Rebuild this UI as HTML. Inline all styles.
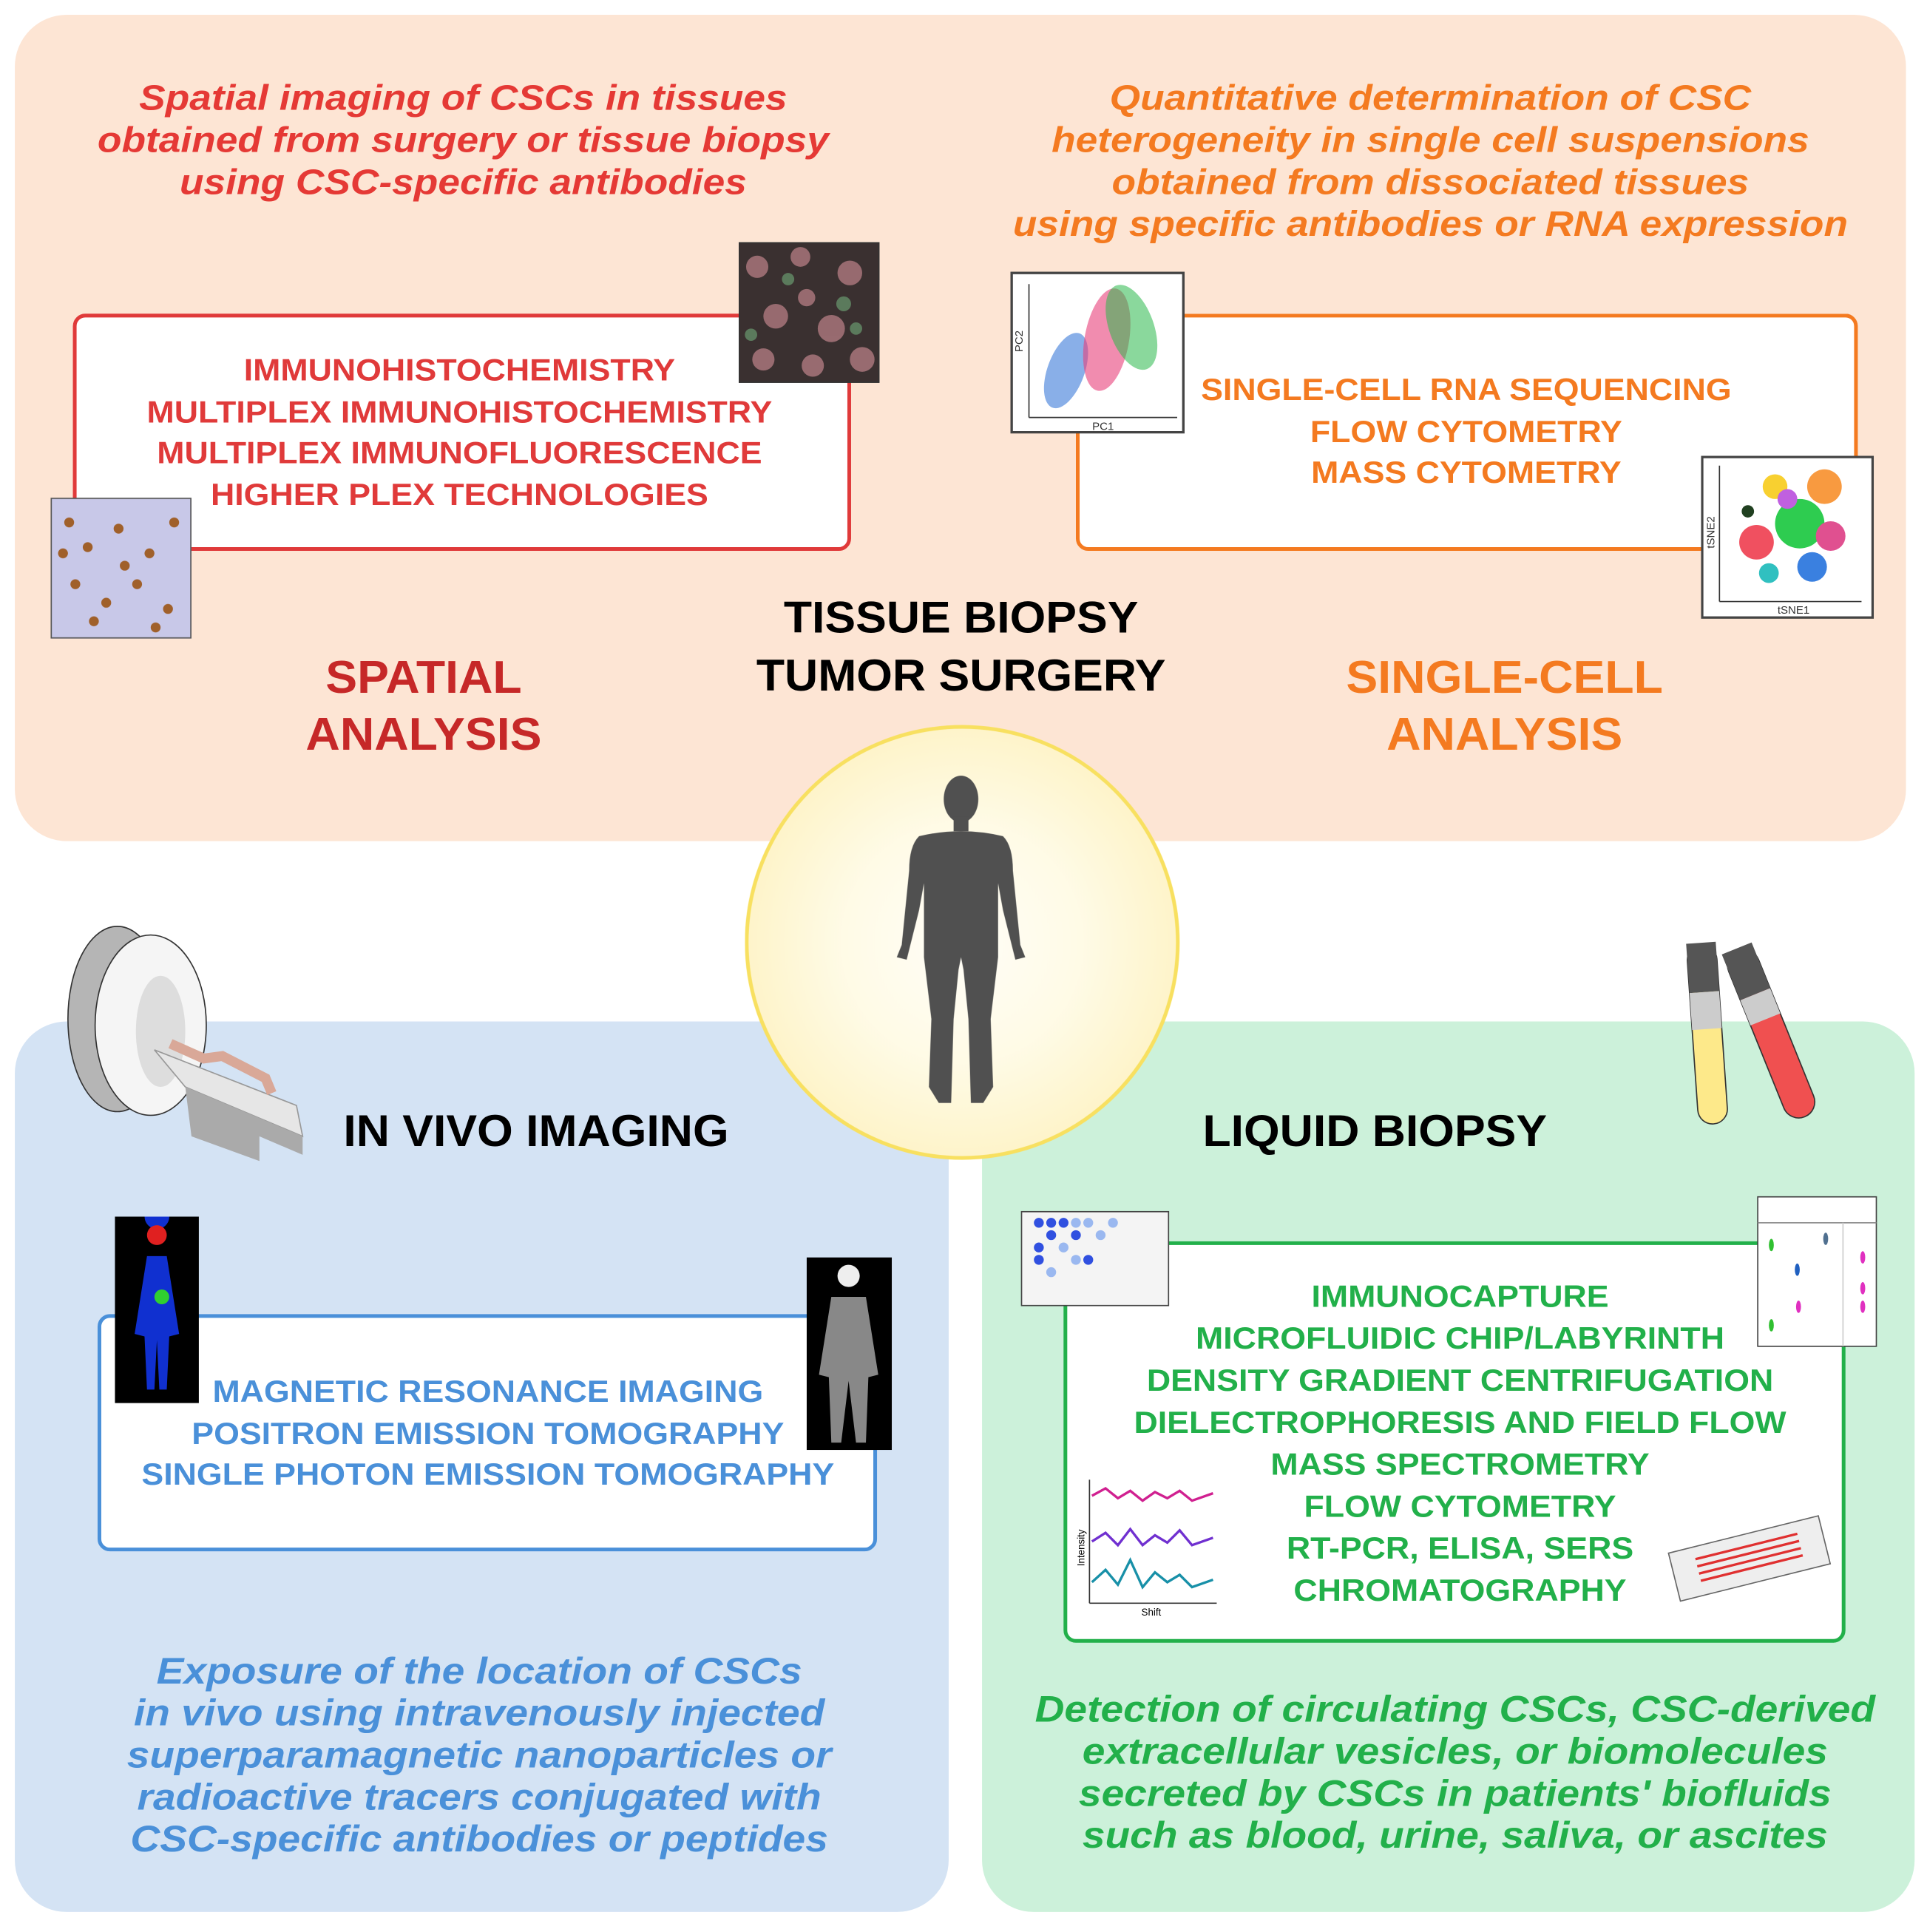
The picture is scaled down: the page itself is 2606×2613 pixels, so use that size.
<!DOCTYPE html>
<html><head><meta charset="utf-8">
<style>
html,body{margin:0;padding:0;background:#fff;width:2606px;height:2612px;overflow:hidden}
#s{position:absolute;left:0;top:0;width:1560px;height:1564px;transform:scale(1.6705);transform-origin:0 0;font-family:"Liberation Sans",Arial,sans-serif;font-weight:bold}
.p{position:absolute}
.t{position:absolute;width:1000px;text-align:center;white-space:nowrap;transform-origin:50% 0}
.i{transform:scaleX(1.1)}
.b{transform:scaleX(1.07)}
.h{transform:scaleX(1.04)}
.box{position:absolute;background:#fff;border-radius:10px;border:3px solid}
</style></head><body><div id="s">
<div class="p" style="left:12px;top:12px;width:1531px;height:669px;background:#fde5d4;border-radius:42px"></div>
<div class="p" style="left:12px;top:827px;width:756px;height:721px;background:#d4e3f4;border-radius:42px"></div>
<div class="p" style="left:795px;top:827px;width:755px;height:721px;background:#ccf1da;border-radius:42px"></div>

<div class="t i" style="left:-125px;top:63px;font-size:29px;line-height:34px;font-style:italic;color:#e53935">Spatial imaging of CSCs in tissues<br>obtained from surgery or tissue biopsy<br>using CSC-specific antibodies</div>
<div class="t i" style="left:658px;top:63px;font-size:29px;line-height:34px;font-style:italic;color:#f47a20">Quantitative determination of CSC<br>heterogeneity in single cell suspensions<br>obtained from dissociated tissues<br>using specific antibodies or RNA expression</div>

<div class="box" style="left:59px;top:254px;width:624px;height:186px;border-color:#e03a3a"></div>
<div class="t b" style="left:-128px;top:284px;font-size:25px;line-height:33.5px;color:#e03a3a">IMMUNOHISTOCHEMISTRY<br>MULTIPLEX IMMUNOHISTOCHEMISTRY<br>MULTIPLEX IMMUNOFLUORESCENCE<br>HIGHER PLEX TECHNOLOGIES</div>
<div class="box" style="left:871px;top:254px;width:627px;height:186px;border-color:#f47a20"></div>
<div class="t b" style="left:687px;top:300px;font-size:25px;line-height:33.5px;color:#f47a20">SINGLE-CELL RNA SEQUENCING<br>FLOW CYTOMETRY<br>MASS CYTOMETRY</div>

<svg class="p" style="left:598px;top:196px" width="114" height="114"><rect width="114" height="114" fill="#3a3030"/>
<g fill="#b07a80" opacity=".8"><circle cx="15" cy="20" r="9"/><circle cx="50" cy="12" r="8"/><circle cx="90" cy="25" r="10"/><circle cx="30" cy="60" r="10"/><circle cx="75" cy="70" r="11"/><circle cx="20" cy="95" r="9"/><circle cx="60" cy="100" r="9"/><circle cx="100" cy="95" r="10"/><circle cx="55" cy="45" r="7"/></g>
<g fill="#6a9a70" opacity=".7"><circle cx="40" cy="30" r="5"/><circle cx="85" cy="50" r="6"/><circle cx="10" cy="75" r="5"/><circle cx="95" cy="70" r="5"/></g><rect width="114" height="114" fill="none" stroke="#333" stroke-width="2"/></svg>
<svg class="p" style="left:41px;top:403px" width="114" height="114"><rect width="114" height="114" fill="#c8c8e8"/>
<g fill="#a0602a"><circle cx="15" cy="20" r="4"/><circle cx="30" cy="40" r="4"/><circle cx="55" cy="25" r="4"/><circle cx="80" cy="45" r="4"/><circle cx="20" cy="70" r="4"/><circle cx="45" cy="85" r="4"/><circle cx="70" cy="70" r="4"/><circle cx="95" cy="90" r="4"/><circle cx="100" cy="20" r="4"/><circle cx="60" cy="55" r="4"/><circle cx="35" cy="100" r="4"/><circle cx="85" cy="105" r="4"/><circle cx="10" cy="45" r="4"/></g><rect width="114" height="114" fill="none" stroke="#555" stroke-width="2"/></svg>
<svg class="p" style="left:818px;top:220px" width="141" height="131"><rect x="1" y="1" width="139" height="129" fill="#fff" stroke="#444" stroke-width="2"/>
<line x1="15" y1="10" x2="15" y2="118" stroke="#333"/><line x1="15" y1="118" x2="135" y2="118" stroke="#333"/>
<ellipse cx="45" cy="80" rx="15" ry="32" fill="#3a7ad8" opacity=".6" transform="rotate(20 45 80)"/>
<ellipse cx="78" cy="55" rx="18" ry="42" fill="#e8407a" opacity=".6" transform="rotate(10 78 55)"/>
<ellipse cx="98" cy="45" rx="18" ry="36" fill="#2ab84a" opacity=".55" transform="rotate(-20 98 45)"/>
<text x="75" y="128" font-size="9" font-weight="normal" fill="#333" text-anchor="middle">PC1</text><text x="10" y="65" font-size="9" font-weight="normal" fill="#333" transform="rotate(-90 10 65)">PC2</text></svg>
<svg class="p" style="left:1377px;top:369px" width="140" height="132"><rect x="1" y="1" width="138" height="130" fill="#fff" stroke="#444" stroke-width="2"/>
<line x1="15" y1="8" x2="15" y2="118" stroke="#333"/><line x1="15" y1="118" x2="130" y2="118" stroke="#333"/>
<circle cx="100" cy="25" r="14" fill="#f89a40"/><circle cx="80" cy="55" r="20" fill="#2ecc50"/><circle cx="45" cy="70" r="14" fill="#f05060"/><circle cx="60" cy="25" r="10" fill="#f8d030"/><circle cx="105" cy="65" r="12" fill="#e05090"/><circle cx="90" cy="90" r="12" fill="#3a80e0"/><circle cx="55" cy="95" r="8" fill="#30c0c0"/><circle cx="38" cy="45" r="5" fill="#204020"/><circle cx="70" cy="35" r="8" fill="#c060e0"/>
<text x="75" y="128" font-size="9" font-weight="normal" fill="#333" text-anchor="middle">tSNE1</text><text x="11" y="75" font-size="9" font-weight="normal" fill="#333" transform="rotate(-90 11 75)">tSNE2</text></svg>

<div class="t h" style="left:278px;top:476px;font-size:36px;line-height:47px;color:#000">TISSUE BIOPSY<br>TUMOR SURGERY</div>
<div class="t h" style="left:-157px;top:526px;font-size:37px;line-height:46px;color:#c62828">SPATIAL<br>ANALYSIS</div>
<div class="t h" style="left:718px;top:526px;font-size:37px;line-height:46px;color:#f47a20">SINGLE-CELL<br>ANALYSIS</div>

<div class="p" style="left:603px;top:587px;width:346px;height:346px;border-radius:50%;border:3px solid #f8e060;background:radial-gradient(circle,#fffef8 0%,#fffbe6 40%,#fdeeb0 100%)"></div>
<svg class="p" style="left:720px;top:625px" width="116" height="275"><g fill="#505050">
<ellipse cx="58" cy="22" rx="14" ry="19"/><rect x="52" y="36" width="12" height="12"/>
<path d="M24 52 Q58 44 92 52 Q100 60 100 80 L106 140 L110 150 L102 152 L92 112 L88 90 L88 150 L82 200 L84 255 L76 268 L66 268 L64 200 L60 160 L58 150 L56 160 L52 200 L50 268 L40 268 L32 255 L34 200 L28 150 L28 90 L24 112 L14 152 L6 150 L10 140 L16 80 Q16 60 24 52 Z"/></g></svg>

<svg class="p" style="left:30px;top:745px" width="220" height="200">
<ellipse cx="65" cy="80" rx="40" ry="75" fill="#b5b5b5" stroke="#333"/>
<ellipse cx="92" cy="85" rx="45" ry="73" fill="#f5f5f5" stroke="#333"/>
<ellipse cx="100" cy="90" rx="20" ry="45" fill="#ddd"/>
<path d="M95 105 L210 150 L215 175 L120 135 Z" fill="#e6e6e6" stroke="#999"/>
<path d="M120 135 L215 175 L215 190 L180 175 L180 195 L125 175 Z" fill="#aaa"/>
<path d="M108 100 L135 112 L150 110 L185 128 L190 140" stroke="#d9a898" stroke-width="8" fill="none"/></svg>
<div class="t h" style="left:-66px;top:895px;font-size:36px;color:#000">IN VIVO IMAGING</div>
<div class="box" style="left:79px;top:1064px;width:625px;height:186px;border-color:#4a90d9"></div>
<svg class="p" style="left:93px;top:985px" width="68" height="151"><rect width="68" height="151" fill="#000"/>
<path d="M34 10 a10 10 0 1 1 0.1 0 M26 32 L42 32 L52 95 L44 97 L42 140 L36 140 L34 100 L32 140 L26 140 L24 97 L16 95 Z" fill="#1030d0"/><circle cx="34" cy="15" r="8" fill="#e02020"/><circle cx="38" cy="65" r="6" fill="#30d030"/></svg>
<svg class="p" style="left:653px;top:1018px" width="69" height="156"><rect width="69" height="156" fill="#000"/>
<circle cx="34" cy="15" r="9" fill="#eee"/><path d="M20 32 L48 32 L58 95 L50 97 L48 150 L40 150 L34 100 L28 150 L20 150 L18 97 L10 95 Z" fill="#888"/></svg>
<div class="t b" style="left:-105px;top:1111px;font-size:25px;line-height:33.5px;color:#4a90d9">MAGNETIC RESONANCE IMAGING<br>POSITRON EMISSION TOMOGRAPHY<br>SINGLE PHOTON EMISSION TOMOGRAPHY</div>
<div class="t i" style="left:-112px;top:1337px;font-size:30px;line-height:34px;font-style:italic;color:#4a90d9">Exposure of the location of CSCs<br>in vivo using intravenously injected<br>superparamagnetic nanoparticles or<br>radioactive tracers conjugated with<br>CSC-specific antibodies or peptides</div>

<svg class="p" style="left:1362px;top:755px" width="135" height="160">
<g transform="rotate(-4 22 80)"><rect x="8" y="10" width="24" height="145" rx="12" fill="#fde98a" stroke="#333"/><rect x="8" y="8" width="24" height="40" fill="#555"/><rect x="8" y="48" width="24" height="30" fill="#ccc"/></g>
<g transform="rotate(-22 70 80)"><rect x="58" y="10" width="26" height="145" rx="13" fill="#f05050" stroke="#333"/><rect x="58" y="8" width="26" height="40" fill="#555"/><rect x="58" y="48" width="26" height="22" fill="#ccc"/></g></svg>
<div class="t h" style="left:613px;top:895px;font-size:36px;color:#000">LIQUID BIOPSY</div>
<div class="box" style="left:861px;top:1005px;width:627px;height:319px;border-color:#22b04a"></div>
<svg class="p" style="left:826px;top:980px" width="121" height="78"><rect x="1" y="1" width="119" height="76" fill="#f4f4f4" stroke="#444"/>
<g fill="#3050e0"><circle cx="15" cy="10" r="4"/><circle cx="25" cy="10" r="4"/><circle cx="35" cy="10" r="4"/><circle cx="15" cy="30" r="4"/><circle cx="25" cy="20" r="4"/><circle cx="45" cy="20" r="4"/><circle cx="55" cy="40" r="4"/><circle cx="15" cy="40" r="4"/></g>
<g fill="#9ab8f0"><circle cx="45" cy="10" r="4"/><circle cx="55" cy="10" r="4"/><circle cx="65" cy="20" r="4"/><circle cx="35" cy="30" r="4"/><circle cx="45" cy="40" r="4"/><circle cx="75" cy="10" r="4"/><circle cx="25" cy="50" r="4"/></g></svg>
<svg class="p" style="left:1422px;top:968px" width="98" height="123"><rect x="1" y="1" width="96" height="121" fill="#fff" stroke="#444"/><line x1="1" y1="22" x2="97" y2="22" stroke="#888"/><line x1="70" y1="22" x2="70" y2="122" stroke="#ccc"/>
<ellipse cx="12" cy="40" rx="2" ry="5" fill="#30c030"/><ellipse cx="56" cy="35" rx="2" ry="5" fill="#507090"/><ellipse cx="33" cy="60" rx="2" ry="5" fill="#2060c0"/><ellipse cx="34" cy="90" rx="2" ry="5" fill="#e030c0"/><ellipse cx="12" cy="105" rx="2" ry="5" fill="#30c030"/><ellipse cx="86" cy="50" rx="2" ry="5" fill="#e030c0"/><ellipse cx="86" cy="75" rx="2" ry="5" fill="#e030c0"/><ellipse cx="86" cy="90" rx="2" ry="5" fill="#e030c0"/></svg>
<div class="t b" style="left:682px;top:1033px;font-size:25px;line-height:34px;color:#22b04a">IMMUNOCAPTURE<br>MICROFLUIDIC CHIP/LABYRINTH<br>DENSITY GRADIENT CENTRIFUGATION<br>DIELECTROPHORESIS AND FIELD FLOW<br>MASS SPECTROMETRY<br>FLOW CYTOMETRY<br>RT-PCR, ELISA, SERS<br>CHROMATOGRAPHY</div>
<svg class="p" style="left:870px;top:1193px" width="118" height="118">
<line x1="12" y1="5" x2="12" y2="105" stroke="#333"/><line x1="12" y1="105" x2="115" y2="105" stroke="#333"/>
<polyline points="14,18 25,12 35,20 45,14 55,22 65,15 75,20 85,14 95,22 112,16" fill="none" stroke="#d02090" stroke-width="2"/>
<polyline points="14,55 25,48 35,58 45,45 55,58 65,50 75,56 85,46 95,58 112,52" fill="none" stroke="#7030d0" stroke-width="2"/>
<polyline points="14,88 25,78 35,90 45,70 55,92 65,80 75,88 85,82 95,92 112,86" fill="none" stroke="#1890a8" stroke-width="2"/>
<text x="62" y="115" font-size="8" font-weight="normal" text-anchor="middle">Shift</text><text x="8" y="75" font-size="8" font-weight="normal" transform="rotate(-90 8 75)">Intensity</text></svg>
<svg class="p" style="left:1348px;top:1222px" width="135" height="75"><g transform="rotate(-14 67 37)"><rect x="5" y="20" width="125" height="40" fill="#eee" stroke="#666"/>
<g stroke="#e03030" stroke-width="2" fill="none"><line x1="25" y1="30" x2="110" y2="30"/><line x1="25" y1="36" x2="110" y2="36"/><line x1="25" y1="42" x2="110" y2="42"/><line x1="25" y1="48" x2="110" y2="48"/></g></g></svg>
<div class="t i" style="left:678px;top:1368px;font-size:30px;line-height:34px;font-style:italic;color:#22b04a">Detection of circulating CSCs, CSC-derived<br>extracellular vesicles, or biomolecules<br>secreted by CSCs in patients' biofluids<br>such as blood, urine, saliva, or ascites</div>
</div></body></html>
